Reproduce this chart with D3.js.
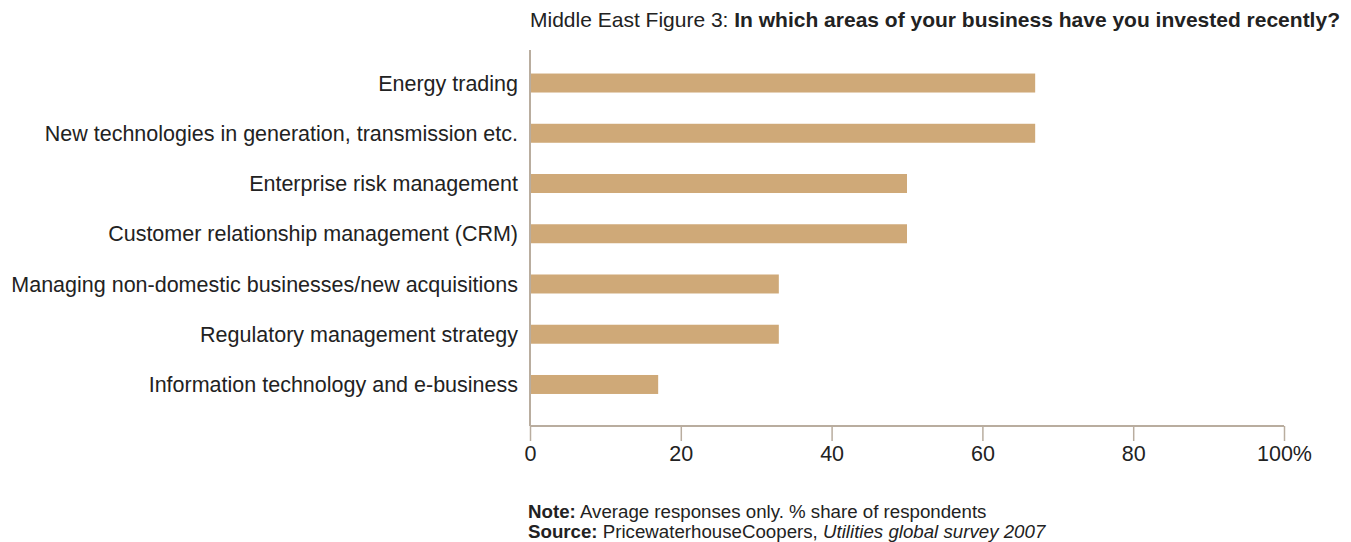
<!DOCTYPE html>
<html>
<head>
<meta charset="utf-8">
<script src="https://cdn.jsdelivr.net/npm/d3@7"></script>
<style>
  html, body { margin: 0; padding: 0; background: #fff; }
  svg { display: block; font-family: "Liberation Sans", Arial, Helvetica, sans-serif; }
</style>
</head>
<body>
<svg id="chart" width="1351" height="542"></svg>
<script>
const categories = [
  "Energy trading",
  "New technologies in generation, transmission etc.",
  "Enterprise risk management",
  "Customer relationship management (CRM)",
  "Managing non-domestic businesses/new acquisitions",
  "Regulatory management strategy",
  "Information technology and e-business"
];
const values = [67, 67, 50, 50, 33, 33, 17];
const tickValues = [0, 20, 40, 60, 80, 100];
const tickLabels = ["0", "20", "40", "60", "80", "100%"];

const svg = d3.select("#chart");
const axisColor = "#b9ad9f";
const barColor = "#cfa978";
const textColor = "#222";

const x = d3.scaleLinear().domain([0, 100]).range([530, 1284]);
const y = d3.scaleBand().domain(categories).range([57.9, 409.6]).paddingInner(0.622).paddingOuter(0.311);

// Title
const title = svg.append("text").attr("x", 530).attr("y", 27)
  .attr("font-size", 21).attr("fill", textColor);
title.append("tspan").text("Middle East Figure 3: ");
title.append("tspan").attr("font-weight", "bold").text("In which areas of your business have you invested recently?");

// Bars
svg.append("g").selectAll("rect").data(values).join("rect")
  .attr("x", x(0))
  .attr("y", (d, i) => y(categories[i]))
  .attr("width", d => x(d) - x(0))
  .attr("height", y.bandwidth())
  .attr("fill", barColor);

// Category labels
svg.append("g").selectAll("text").data(categories).join("text")
  .attr("x", 518)
  .attr("y", d => y(d) + y.bandwidth() / 2)
  .attr("dy", "0.35em")
  .attr("text-anchor", "end")
  .attr("font-size", 21.5)
  .attr("fill", textColor)
  .text(d => d);

// Vertical axis line
svg.append("line").attr("x1", x(0)).attr("x2", x(0)).attr("y1", 50).attr("y2", 426)
  .attr("stroke", axisColor).attr("stroke-width", 2);

// X axis
const xAxis = d3.axisBottom(x).tickValues(tickValues).tickSize(15).tickPadding(5)
  .tickFormat((d, i) => tickLabels[i]);
const gx = svg.append("g").attr("transform", "translate(0,426)").call(xAxis);
gx.select(".domain").attr("stroke", axisColor).attr("stroke-width", 2).attr("d", `M${x(0)},0H${x(100)}`);
gx.selectAll(".tick line").attr("stroke", axisColor).attr("stroke-width", 1.5);
gx.selectAll(".tick text").attr("font-size", 21.5).attr("fill", textColor)
  .attr("font-family", "'Liberation Sans', Arial, sans-serif");

// Note & source
const note = svg.append("text").attr("x", 528).attr("y", 518).attr("font-size", 18.7).attr("fill", textColor);
note.append("tspan").attr("font-weight", "bold").text("Note:");
note.append("tspan").text(" Average responses only. % share of respondents");
const src = svg.append("text").attr("x", 528).attr("y", 538).attr("font-size", 18.7).attr("fill", textColor);
src.append("tspan").attr("font-weight", "bold").text("Source:");
src.append("tspan").text(" PricewaterhouseCoopers, ");
src.append("tspan").attr("font-style", "italic").text("Utilities global survey 2007");
</script>
</body>
</html>
